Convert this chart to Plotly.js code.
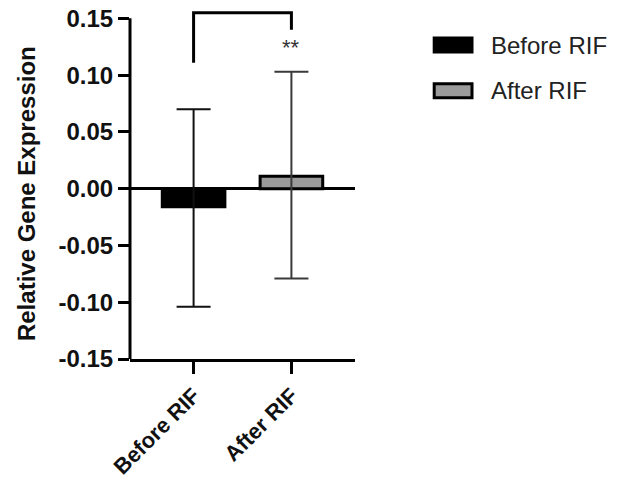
<!DOCTYPE html>
<html>
<head>
<meta charset="utf-8">
<script src="https://cdn.plot.ly/plotly-3.0.1.min.js"></script>
<style>html,body{margin:0;padding:0;background:#fff;}#chart{width:631px;height:485px;}</style>
</head>
<body>
<div id="chart"></div>
<script>
// Data
const categories = ['Before RIF', 'After RIF'];
const means = [-0.016, 0.011];
const errUp = [0.086, 0.092];
const errDown = [0.088, 0.090];
const fillColors = ['#000000', '#9b9b9b'];
const errColors = ['#111111', '#3a3a3a'];
const yTickVals = [-0.15, -0.10, -0.05, 0.00, 0.05, 0.10, 0.15];
const yTickText = ['-0.15', '-0.10', '-0.05', '0.00', '0.05', '0.10', '0.15'];
const bracketY = [0.111, 0.155, 0.140];
const sigLabel = '**';
const sigY = 0.124;
const yTitle = 'Relative Gene Expression';

const FONT = 'Liberation Sans, Arial, sans-serif';

const traces = categories.map((c, i) => ({
  type: 'bar',
  name: c,
  x: [c],
  y: [means[i]],
  width: 0.64,
  showlegend: false,
  marker: {color: fillColors[i], line: {color: '#000', width: 3}},
  error_y: {type: 'data', symmetric: false, array: [errUp[i]], arrayminus: [errDown[i]],
            color: errColors[i], thickness: 2, width: 17},
}));

// custom legend (large swatches like the reference)
const legendShapes = categories.map((c, i) => ({
  type: 'rect', xref: 'paper', yref: 'paper',
  x0: 1.352, x1: 1.52, y0: 0.872 - i * 0.13, y1: 0.912 - i * 0.13,
  fillcolor: fillColors[i], line: {color: '#000', width: 3},
}));
const legendTexts = categories.map((c, i) => ({
  xref: 'paper', yref: 'paper', x: 1.595, y: 0.892 - i * 0.13,
  xanchor: 'left', yanchor: 'middle', text: c, showarrow: false,
  font: {family: FONT, size: 24, color: '#222'},
}));

const layout = {
  width: 631, height: 485,
  margin: {l: 130, r: 276, t: 7, b: 126},
  paper_bgcolor: '#fff', plot_bgcolor: '#fff',
  barmode: 'overlay',
  showlegend: false,
  xaxis: {
    range: [-0.65, 1.65], type: 'category',
    showline: true, linecolor: '#000', linewidth: 3,
    ticks: 'outside', ticklen: 12, tickwidth: 3, tickcolor: '#000',
    tickangle: -45, showgrid: false, zeroline: false,
    tickfont: {family: FONT, size: 22, color: '#111', weight: 'bold'},
  },
  yaxis: {
    range: [-0.15, 0.16],
    showline: false,
    ticks: 'outside', ticklen: 11, tickwidth: 3, tickcolor: '#000',
    tickvals: yTickVals, ticktext: yTickText,
    showgrid: false, zeroline: true, zerolinecolor: '#000', zerolinewidth: 3,
    tickfont: {family: FONT, size: 24, color: '#111', weight: 'bold'},
  },
  shapes: [
    {type: 'line', xref: 'paper', yref: 'y', x0: 0, x1: 0, y0: -0.15, y1: 0.15,
     line: {color: '#000', width: 3}},
    {type: 'path', xref: 'x', yref: 'y', layer: 'above',
     path: 'M 0 ' + bracketY[0] + ' L 0 ' + bracketY[1] + ' L 1 ' + bracketY[1] + ' L 1 ' + bracketY[2],
     line: {color: '#000', width: 3}},
  ].concat(legendShapes),
  annotations: [
    {x: categories[1], y: sigY, xref: 'x', yref: 'y', text: sigLabel, showarrow: false,
     font: {family: FONT, size: 22, color: '#333'}},
    {xref: 'paper', yref: 'paper', x: -0.46, y: 0.47, text: yTitle, textangle: -90,
     showarrow: false, xanchor: 'center', yanchor: 'middle',
     font: {family: FONT, size: 24, color: '#111', weight: 'bold'}},
  ].concat(legendTexts),
};

Plotly.newPlot('chart', traces, layout, {displayModeBar: false, staticPlot: true});
</script>
</body>
</html>
